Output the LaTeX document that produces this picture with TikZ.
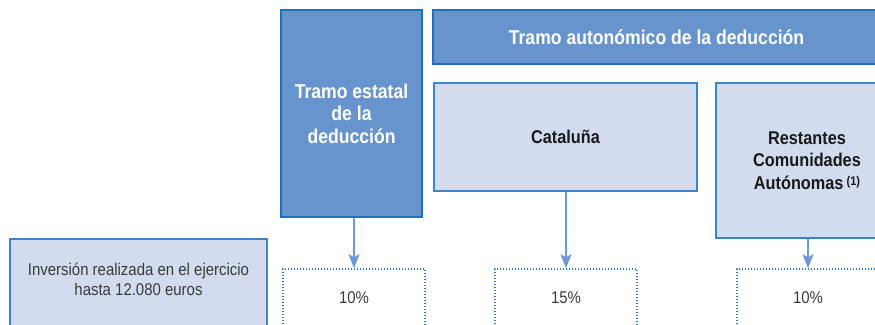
\documentclass[tikz,border=0pt]{standalone}
\usepackage{fontspec}
\setmainfont{Liberation Sans}[FakeStretch=0.88]
\usetikzlibrary{arrows.meta}
\definecolor{darkfill}{HTML}{6794CC}
\definecolor{darkline}{HTML}{2170B8}
\definecolor{lightfill}{HTML}{D3DCEF}
\definecolor{lightline}{HTML}{3A85CB}
\definecolor{dotline}{HTML}{2F7DC6}
\definecolor{arrowcol}{HTML}{6E99D4}
\definecolor{txtgray}{HTML}{3A3A3A}
\definecolor{txtdark}{HTML}{1A1A1A}
\tikzset{
  x=1pt, y=-1pt,
  darkbox/.style={draw=darkline, fill=darkfill, line width=1.4pt, inner sep=0pt, align=center,
    text=white, font=\fontsize{20}{22.5}\selectfont\bfseries},
  lightbox/.style={draw=lightline, fill=lightfill, line width=1.4pt, inner sep=0pt, align=center,
    text=txtdark, font=\fontsize{18.5}{22.5}\selectfont\bfseries},
  dotbox/.style={draw=dotline, line width=1.5pt, dash pattern=on 1.3pt off 1.7pt, inner sep=0pt},
  plaintext/.style={inner sep=0pt, align=center, text=txtgray, font=\fontsize{17}{20}\selectfont},
  arr/.style={draw=arrowcol, line width=1.4pt, -{Stealth[width=11pt,length=14pt,inset=3pt]}},
}
\begin{document}
\begin{tikzpicture}
\useasboundingbox (0,0) rectangle (875,324);
% top row
\node[darkbox, minimum width=141pt, minimum height=207pt] (state) at (351.5,113.5)
  {Tramo estatal\\de la\\deducción};
\node[darkbox, minimum width=447pt, minimum height=54pt] (auto) at (656.5,37)
  {Tramo autonómico de la deducción};
\node[lightbox, minimum width=263pt, minimum height=108pt] (cat) at (565.5,137) {Cataluña};
\node[lightbox, minimum width=182pt, minimum height=155pt] (rest) at (807,160.5)
  {Restantes\\Comunidades\\Autónomas\,{\fontsize{12.5}{13}\selectfont\raisebox{4pt}{(1)}}};
% bottom row
\node[draw=lightline, fill=lightfill, line width=1.4pt, minimum width=257pt, minimum height=110pt,
  inner sep=0pt] (inv) at (138.5,294) {};
\node[plaintext] (invtxt) at (138.5,279) {Inversión realizada en el ejercicio\\hasta 12.080 euros};
\node[dotbox, minimum width=142pt, minimum height=100pt] (d1) at (354,319) {};
\node[dotbox, minimum width=142pt, minimum height=100pt] (d2) at (566,319) {};
\node[dotbox, minimum width=142pt, minimum height=100pt] (d3) at (808,319) {};
\node[plaintext] (p1) at (354,298) {10\%};
\node[plaintext] (p2) at (566,298) {15\%};
\node[plaintext] (p3) at (808,298) {10\%};
% arrows
\draw[arr] (d1.north |- state.south) -- (d1.north);
\draw[arr] (d2.north |- cat.south) -- (d2.north);
\draw[arr] (d3.north |- rest.south) -- (d3.north);
\end{tikzpicture}
\end{document}
